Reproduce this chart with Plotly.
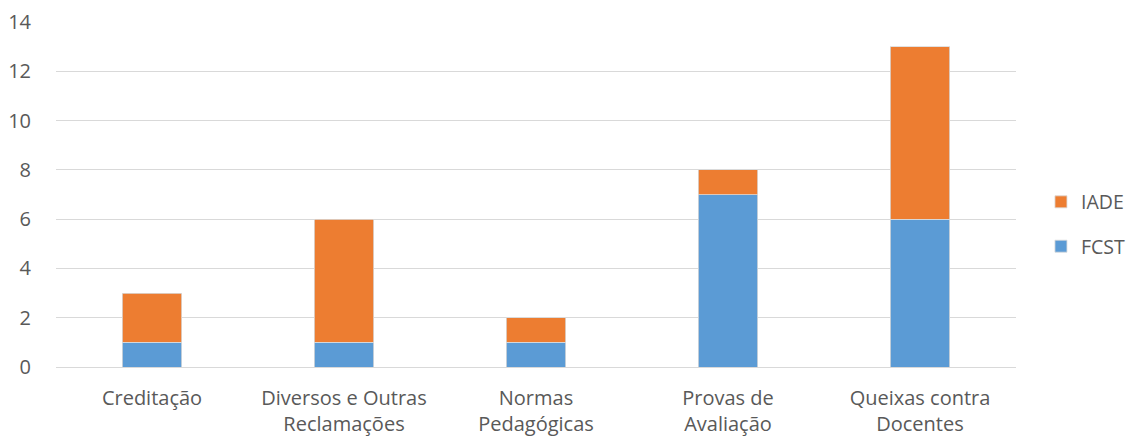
import plotly.graph_objects as go

categories = ["Creditação", "Diversos e Outras<br>Reclamações", "Normas<br>Pedagógicas",
              "Provas de<br>Avaliação", "Queixas contra<br>Docentes"]
fcst = [1, 1, 1, 7, 6]
iade = [2, 5, 1, 1, 7]
y_ticks = [0, 2, 4, 6, 8, 10, 12, 14]

FONT = "Open Sans"
TXT = "#595959"
FS = 20

fig = go.Figure()
fig.add_trace(go.Bar(x=categories, y=fcst, name="FCST", legendgroup="a", legendrank=2,
                     marker=dict(color="#5B9BD5", line=dict(color="#D9D9D9", width=0.8))))
fig.add_trace(go.Bar(x=categories, y=iade, name="IADE", legendgroup="b", legendrank=1,
                     marker=dict(color="#ED7D31", line=dict(color="#D9D9D9", width=0.8))))

fig.update_layout(
    barmode="stack",
    width=1126, height=438,
    margin=dict(l=56, r=110, t=22, b=71, pad=0, autoexpand=False),
    paper_bgcolor="white", plot_bgcolor="white",
    bargap=0.688,
    font=dict(family=FONT, size=FS, color=TXT),
    legend=dict(x=1.026, y=0.414, xanchor="left", yanchor="middle",
                traceorder="grouped", tracegroupgap=16,
                font=dict(family=FONT, size=19.5, color=TXT),
                itemwidth=30),
    xaxis=dict(showline=False, ticks="outside", ticklen=13, tickcolor="white",
               tickfont=dict(size=FS, color=TXT)),
    yaxis=dict(range=[0, 14], tickvals=y_ticks, showgrid=True, gridcolor="#D9D9D9",
               gridwidth=1.3, zeroline=True, zerolinecolor="#D9D9D9", zerolinewidth=1.3,
               ticks="outside", ticklen=20, tickcolor="white",
               tickfont=dict(size=FS, color=TXT)),
)

fig.write_html("out.html")
